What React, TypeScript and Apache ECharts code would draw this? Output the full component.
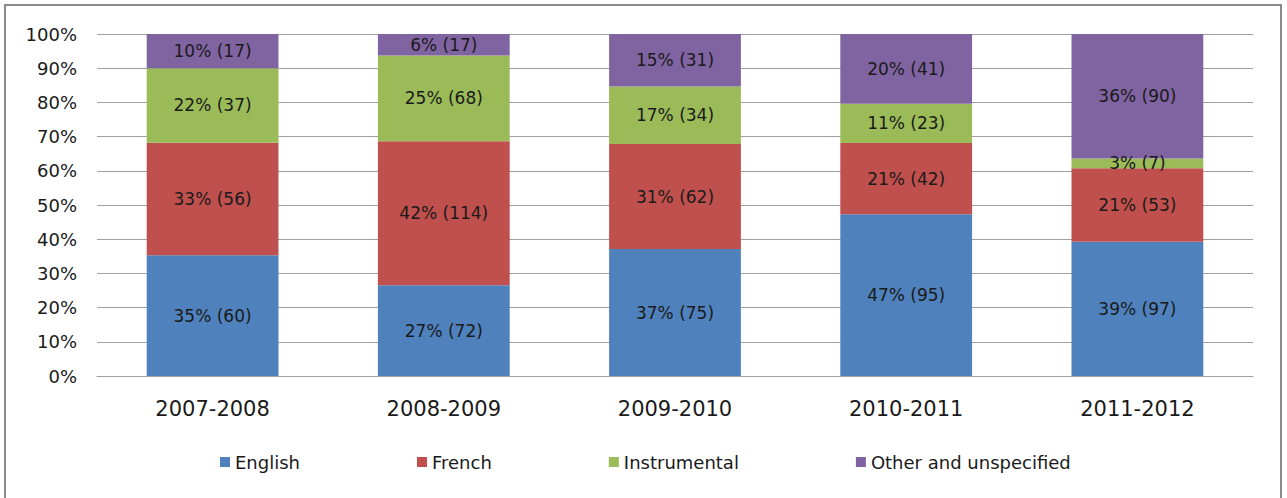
import React, { useEffect, useRef } from "react";
import * as echarts from "echarts";

const categories = ["2007-2008", "2008-2009", "2009-2010", "2010-2011", "2011-2012"];
const seriesNames = ["English", "French", "Instrumental", "Other and unspecified"];
const englishCounts = [60, 72, 75, 95, 97];
const frenchCounts = [56, 114, 62, 42, 53];
const instrumentalCounts = [37, 68, 34, 23, 7];
const otherCounts = [17, 17, 31, 41, 90];
const colors = ["#4F81BD", "#C0504D", "#9BBB59", "#8064A2"];
const yTicks = [0, 10, 20, 30, 40, 50, 60, 70, 80, 90, 100];

const FONT = '"DejaVu Sans", sans-serif';

export default function App() {
  const ref = useRef<HTMLDivElement>(null);
  useEffect(() => {
    document.body.style.margin = "0";
    const chart = echarts.init(ref.current!, null, { renderer: "svg" });
    const all = [englishCounts, frenchCounts, instrumentalCounts, otherCounts];
    const totals = categories.map((_, i) => all.reduce((s, arr) => s + arr[i], 0));
    const series = all.map((counts, si) => ({
      name: seriesNames[si],
      type: "bar",
      stack: "total",
      barWidth: "57%",
      data: counts.map((c, i) => (c / totals[i]) * 100),
      itemStyle: { color: colors[si] },
      label: {
        show: true,
        position: "inside",
        color: "#1a1a1a",
        fontSize: 17,
        fontFamily: FONT,
        formatter: (p: any) => `${Math.round(p.value)}% (${counts[p.dataIndex]})`,
      },
    }));
    chart.setOption({
      animation: false,
      textStyle: { fontFamily: FONT },
      graphic: [
        {
          type: "rect",
          shape: { x: 5, y: 5, width: 1276, height: 510 },
          style: { fill: "none", stroke: "#8a8a8a", lineWidth: 2 },
          silent: true,
        },
      ],
      grid: { left: 97, right: 34, top: 34, bottom: 122, containLabel: false },
      legend: {
        bottom: 22,
        left: 215,
        itemWidth: 10,
        itemHeight: 10,
        itemGap: 117,
        icon: "rect",
        textStyle: { fontSize: 18, color: "#1a1a1a", fontFamily: FONT },
        data: seriesNames,
      },
      xAxis: {
        type: "category",
        data: categories,
        axisLine: { show: true, lineStyle: { color: "#a0a0a0", width: 1 } },
        axisTick: { show: false },
        axisLabel: { fontSize: 21, color: "#1a1a1a", margin: 22, fontFamily: FONT },
      },
      yAxis: {
        type: "value",
        min: yTicks[0],
        max: yTicks[yTicks.length - 1],
        interval: 10,
        axisLine: { show: false },
        axisTick: { show: false },
        axisLabel: { formatter: "{value}%", fontSize: 18, color: "#1a1a1a", margin: 20, fontFamily: FONT },
        splitLine: { lineStyle: { color: "#a0a0a0", width: 1 } },
      },
      series,
    });
    return () => chart.dispose();
  }, []);
  return <div ref={ref} style={{ width: 1287, height: 498 }} />;
}
